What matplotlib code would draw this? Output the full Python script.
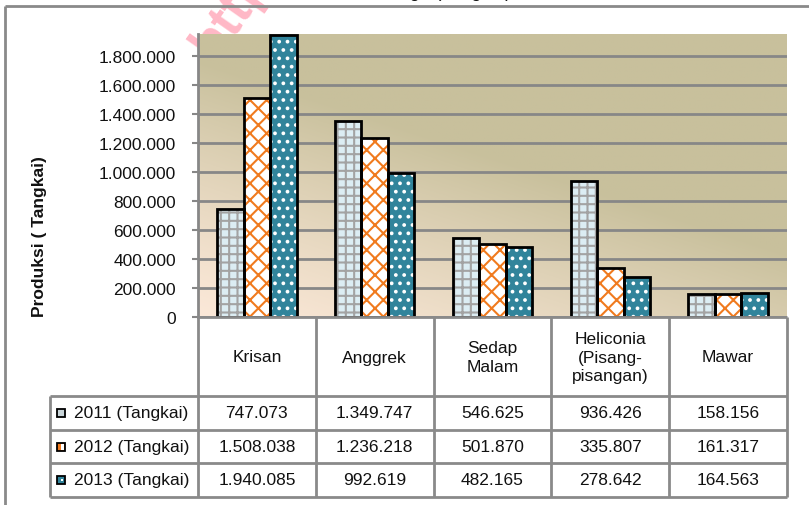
import numpy as np
import matplotlib
matplotlib.use("Agg")
import matplotlib.pyplot as plt
import matplotlib.transforms as mtransforms
from matplotlib.patches import Rectangle

# ---------------- data ----------------
categories = ["Krisan", "Anggrek", "Sedap\nMalam", "Heliconia\n(Pisang-\npisangan)", "Mawar"]
series_names = ["2011 (Tangkai)", "2012 (Tangkai)", "2013 (Tangkai)"]
v2011 = [747073, 1349747, 546625, 936426, 158156]
v2012 = [1508038, 1236218, 501870, 335807, 161317]
v2013 = [1940085, 992619, 482165, 278642, 164563]
y_ticks = [0, 200000, 400000, 600000, 800000, 1000000, 1200000, 1400000, 1600000, 1800000]
y_label = "Produksi ( Tangkai)"
title_text = "Produksi Bunga (Tangkai)"

def fmt(v):
    return f"{v:,}".replace(",", ".")

plt.rcParams['font.family'] = ['Liberation Sans', 'DejaVu Sans']
plt.rcParams['hatch.linewidth'] = 1.5

W, H = 809, 506
fig = plt.figure(figsize=(W / 100, H / 100), dpi=100)
fig.patch.set_facecolor("white")

# watermark (under the plot)
fig.text(214 / W, 1 - 62 / H, "http", fontsize=38, fontweight='bold', color='#ffb8c6',
         rotation=55, rotation_mode='anchor', ha='left', va='baseline', zorder=-1)

ax = fig.add_axes([198 / W, 1 - 318 / H, (787 - 198) / W, (318 - 35) / H])

# gradient background
u = np.linspace(0, 1, 300)[None, :]
v = np.linspace(1, 0, 200)[:, None]
t = np.clip(0.75 * u + 1.1 * v, 0, 1) ** 1.2
c0 = np.array([251, 232, 216]) / 255
c1 = np.array([200, 192, 156]) / 255
img = c0[None, None, :] * (1 - t[..., None]) + c1[None, None, :] * t[..., None]
ax.imshow(img, extent=[0, 1, 0, 1], transform=ax.transAxes, aspect='auto', zorder=0)

x = np.arange(len(categories))
bw = 0.225
series = [v2011, v2012, v2013]
faces = ['#dcedf3', 'white', '#31849b']
hatch_cols = ['#a3a3a3', '#f07a1e', 'white']
hatches = ['++', 'xx', '..']
for i, (vals, fc, hc, h) in enumerate(zip(series, faces, hatch_cols, hatches)):
    pos = x + (i - 1) * bw
    ax.bar(pos, vals, bw, color=fc, hatch=h, edgecolor=hc, linewidth=0, zorder=3)
    ax.bar(pos, vals, bw, fill=False, edgecolor='black', linewidth=2, zorder=4)

ax.set_xlim(-0.5, len(categories) - 0.5)
ax.set_ylim(0, 1950000)
ax.set_yticks(y_ticks)
ax.set_yticklabels([fmt(t_) for t_ in y_ticks], fontsize=12.5, color='#111111')
ax.set_xticks([])
ax.yaxis.grid(True, color='#878787', linewidth=2, zorder=1)
ax.set_axisbelow(True)
for s in ['top', 'right', 'bottom']:
    ax.spines[s].set_visible(False)
ax.spines['left'].set_color('#878787')
ax.spines['left'].set_linewidth(2)
ax.tick_params(axis='y', length=4, width=1.5, color='#878787', pad=12)
for gl in ax.get_ygridlines():
    gl.set_zorder(1)

# overlay axes in pixel coordinates for the table and frame
ov = fig.add_axes([0, 0, 1, 1])
ov.set_xlim(0, W)
ov.set_ylim(H, 0)
ov.axis('off')
blend = mtransforms.blended_transform_factory(ax.transData, ov.transData)

gray = '#8a8a8a'
# outer frame
ov.plot([5, 5], [7, H], color=gray, lw=2, solid_capstyle='butt')
ov.plot([5, W], [7, 7], color=gray, lw=2, solid_capstyle='butt')

# partial title (clipped at top of the image)
ov.text(511, -3, title_text, ha='right', va='baseline', fontsize=13.3, color='#111111')

# y label
ov.text(40, 237, y_label, rotation=90, ha='center', va='center', fontsize=12.5,
        fontweight='bold', color='#111111')

# table lines
row_y = [318, 397, 431, 464, 498]
ov.plot([198, 787], [318, 318], color=gray, lw=2, solid_capstyle='butt')
for yy in row_y[1:]:
    ov.plot([50, 787], [yy, yy], color=gray, lw=2, solid_capstyle='butt')
ov.plot([50, 50], [397, 498], color=gray, lw=2, solid_capstyle='butt')
for i in range(len(categories) + 1):
    ov.plot([i - 0.5, i - 0.5], [318, 498], color=gray, lw=2, transform=blend,
            solid_capstyle='butt')

# header texts
for i, c in enumerate(categories):
    ov.text(i, 358, c, transform=blend, ha='center', va='center', fontsize=12.5,
            color='#111111', linespacing=1.32, multialignment='center')

# rows
key_cols = [('#c9d5d9', None), ('#f07a1e', 'white'), ('#31849b', None)]
for r, (name, vals) in enumerate(zip(series_names, series)):
    yc = (row_y[r + 1] + row_y[r + 2]) / 2
    fc, half = key_cols[r]
    ov.add_patch(Rectangle((57, yc - 4), 8, 8, facecolor=fc, edgecolor='black', lw=1.3))
    if half:
        ov.add_patch(Rectangle((61.5, yc - 3), 3, 6, facecolor=half, edgecolor='none'))
    if r == 2:
        ov.add_patch(Rectangle((61, yc - 1), 2.5, 2, facecolor='white', edgecolor='none'))
    ov.text(74, yc, name, ha='left', va='center', fontsize=12.5, color='#111111')
    for i, val in enumerate(vals):
        ov.text(i, yc, fmt(val), transform=blend, ha='center', va='center',
                fontsize=12.5, color='#111111')

fig.savefig("out.png", dpi=100)
